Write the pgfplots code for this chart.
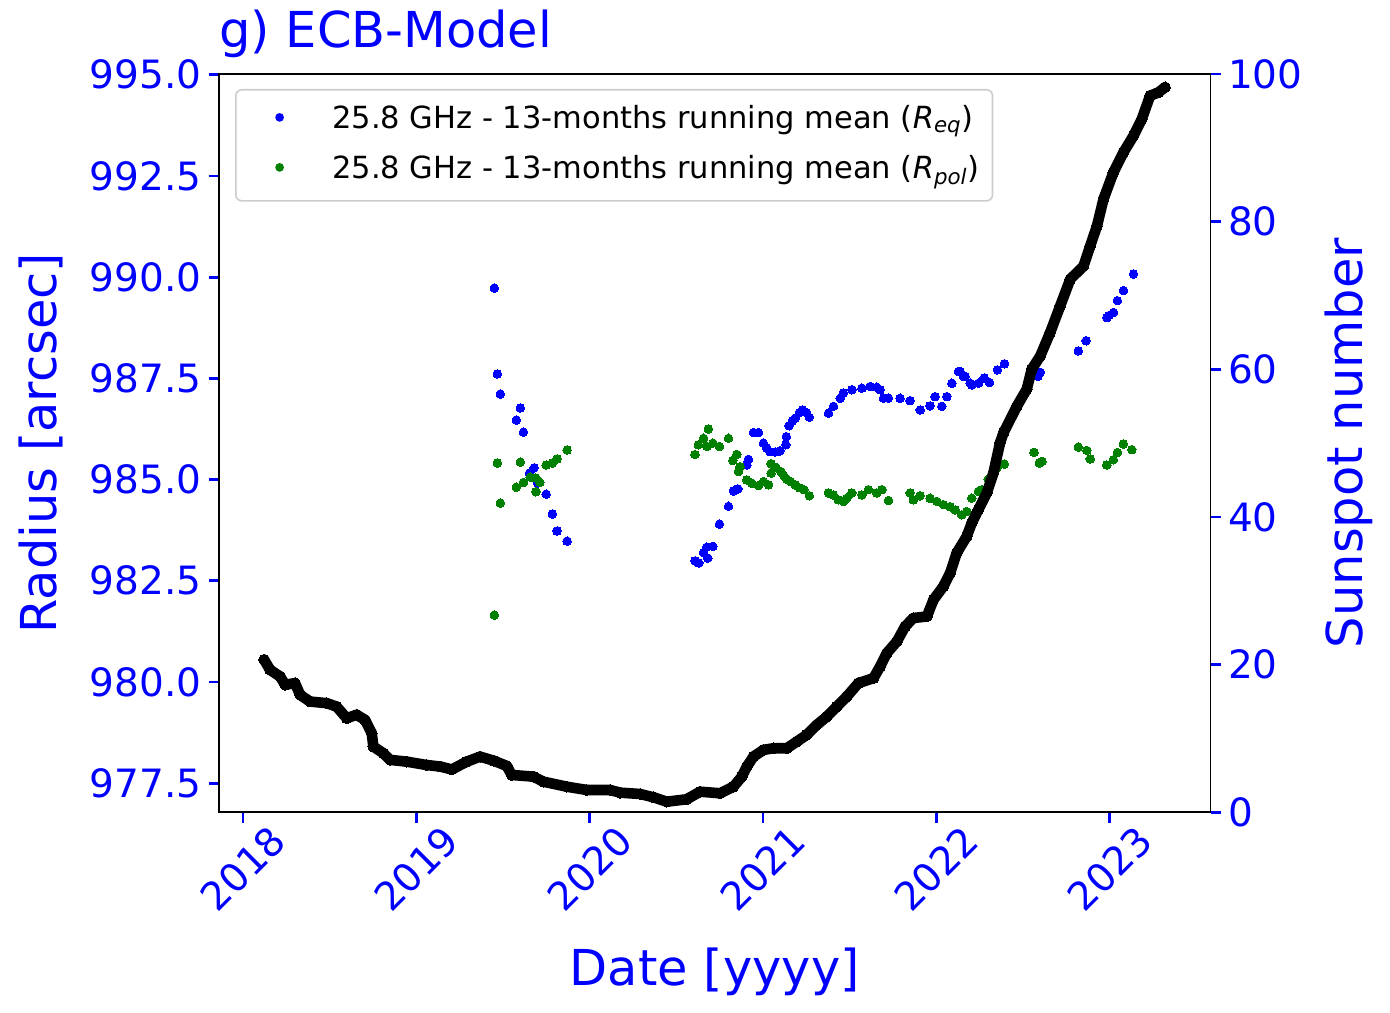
\documentclass[border=0pt]{standalone}
\usepackage{fontspec}
\setmainfont{DejaVu Sans}
\usepackage{pgfplots}
\usepackage{pgfplotstable}
\pgfplotsset{compat=1.18}
\definecolor{mplgreen}{RGB}{0,128,0}
\definecolor{mplblue}{RGB}{0,0,255}

\pgfplotstableread{
x y
2019.450 989.73
2019.468 987.61
2019.485 987.11
2019.577 986.47
2019.600 986.77
2019.618 986.17
2019.653 985.16
2019.680 985.29
2019.700 984.91
2019.749 984.64
2019.785 984.15
2019.812 983.73
2019.870 983.48
2020.608 982.99
2020.630 982.94
2020.657 983.20
2020.676 983.33
2020.682 983.06
2020.711 983.35
2020.749 983.90
2020.801 984.34
2020.830 984.72
2020.855 984.77
2020.907 985.36
2020.916 985.50
2020.945 986.16
2020.974 986.16
2021.003 985.90
2021.022 985.78
2021.041 985.69
2021.070 985.68
2021.099 985.71
2021.132 985.86
2021.135 986.06
2021.151 986.33
2021.170 986.45
2021.186 986.52
2021.210 986.65
2021.228 986.72
2021.250 986.66
2021.268 986.54
2021.378 986.64
2021.407 986.81
2021.446 987.01
2021.464 987.14
2021.513 987.22
2021.571 987.26
2021.619 987.30
2021.657 987.28
2021.676 987.22
2021.695 987.01
2021.724 987.01
2021.791 987.01
2021.849 986.95
2021.907 986.72
2021.964 986.82
2021.993 987.05
2022.032 986.81
2022.061 987.05
2022.090 987.38
2022.128 987.67
2022.138 987.67
2022.157 987.55
2022.167 987.55
2022.196 987.38
2022.205 987.34
2022.244 987.38
2022.276 987.51
2022.307 987.40
2022.353 987.71
2022.394 987.86
2022.552 987.75
2022.586 987.55
2022.600 987.65
2022.820 988.18
2022.865 988.43
2022.984 989.00
2022.995 989.05
2023.022 989.13
2023.045 989.42
2023.080 989.67
2023.138 990.08
}\req

\pgfplotstableread{
x y
2019.450 981.65
2019.468 985.41
2019.485 984.42
2019.577 984.81
2019.600 985.43
2019.618 984.93
2019.657 985.06
2019.690 985.04
2019.690 984.70
2019.713 984.93
2019.749 985.36
2019.785 985.41
2019.812 985.51
2019.870 985.73
2020.608 985.62
2020.627 985.86
2020.657 986.02
2020.676 985.82
2020.685 986.25
2020.711 985.90
2020.749 985.82
2020.801 986.02
2020.826 985.47
2020.849 985.62
2020.859 985.20
2020.868 985.32
2020.907 984.99
2020.936 984.91
2020.974 984.85
2021.003 984.95
2021.032 984.87
2021.047 985.16
2021.047 985.39
2021.075 985.30
2021.103 985.20
2021.120 985.10
2021.138 985.01
2021.160 984.95
2021.186 984.87
2021.210 984.80
2021.236 984.75
2021.268 984.60
2021.378 984.67
2021.407 984.62
2021.435 984.50
2021.464 984.46
2021.484 984.54
2021.513 984.67
2021.571 984.62
2021.609 984.75
2021.657 984.67
2021.686 984.75
2021.724 984.48
2021.849 984.67
2021.868 984.50
2021.907 984.60
2021.964 984.54
2022.003 984.46
2022.041 984.38
2022.080 984.33
2022.109 984.25
2022.147 984.13
2022.176 984.21
2022.205 984.54
2022.243 984.71
2022.262 984.75
2022.300 985.01
2022.349 985.28
2022.393 985.38
2022.564 985.67
2022.595 985.41
2022.610 985.45
2022.820 985.80
2022.869 985.72
2022.888 985.51
2022.984 985.36
2023.022 985.49
2023.045 985.67
2023.080 985.88
2023.128 985.74
}\rpol

\pgfplotstableread{
x y
2018.122 20.66
2018.156 19.30
2018.214 18.40
2018.243 17.27
2018.300 17.50
2018.330 15.90
2018.387 15.00
2018.483 14.78
2018.540 14.32
2018.598 12.75
2018.656 13.20
2018.704 12.52
2018.743 10.70
2018.752 8.90
2018.810 8.00
2018.849 7.10
2018.945 6.86
2019.060 6.40
2019.137 6.20
2019.205 5.80
2019.291 6.86
2019.368 7.54
2019.445 7.00
2019.522 6.28
2019.550 5.06
2019.676 4.83
2019.733 4.15
2019.868 3.47
2019.984 3.02
2020.118 3.02
2020.176 2.66
2020.291 2.48
2020.368 2.03
2020.445 1.44
2020.560 1.76
2020.637 2.79
2020.753 2.58
2020.830 3.47
2020.878 4.83
2020.907 6.18
2020.945 7.54
2021.003 8.45
2021.061 8.68
2021.138 8.68
2021.196 9.58
2021.253 10.50
2021.311 11.84
2021.369 12.97
2021.426 14.32
2021.484 15.68
2021.551 17.50
2021.638 18.17
2021.676 19.75
2021.715 21.57
2021.773 23.14
2021.820 25.17
2021.868 26.31
2021.946 26.53
2021.984 28.79
2022.041 30.60
2022.080 32.40
2022.118 35.13
2022.176 37.38
2022.205 39.20
2022.243 41.00
2022.292 43.27
2022.330 45.98
2022.368 50.05
2022.388 51.40
2022.465 55.00
2022.522 57.30
2022.551 60.00
2022.600 61.80
2022.657 64.97
2022.715 68.58
2022.773 72.20
2022.850 74.00
2022.888 76.70
2022.927 79.40
2022.965 83.05
2023.022 86.67
2023.080 89.38
2023.138 91.63
2023.186 93.90
2023.234 97.06
2023.282 97.50
2023.320 98.20
}\ssn

\pgfplotsset{
  common/.style={
    at={(0,0)}, anchor=south west,
    scale only axis, width=495.8pt, height=369.15pt,
    xmin=2017.8615, xmax=2023.583,
    tick align=outside,
    major tick length=5.25pt,
    every tick/.style={mplblue, line width=1.35pt},
    axis line style={line width=0.85pt, black},
    ticklabel style={font=\fontsize{19.5}{23}\selectfont, text=mplblue},
    label style={font=\fontsize{24.75}{30}\selectfont, text=mplblue},
  }
}

\begin{document}
\begin{tikzpicture}
\begin{axis}[
  common,
  ymin=976.78, ymax=995.02,
  xtick={2018,2019,2020,2021,2022,2023},
  xticklabels={2018,2019,2020,2021,2022,2023},
  ytick={977.5,980,982.5,985,987.5,990,992.5,995},
  yticklabels={977.5,980.0,982.5,985.0,987.5,990.0,992.5,995.0},
  xtick pos=bottom, ytick pos=left,
  xticklabel style={yshift=-23pt, rotate=45, anchor=center},
  xlabel={Date [yyyy]},
  xlabel style={at={(axis description cs:0.5,-0.2163)}, anchor=center},
  ylabel={Radius [arcsec]},
  ylabel style={at={(axis description cs:-0.1794,0.5)}, anchor=center},
  title={g) ECB-Model},
  title style={at={(axis description cs:0,1.0199)}, anchor=base west, inner sep=0pt,
    font=\fontsize{24.75}{30}\selectfont, text=mplblue},
  legend style={at={(axis description cs:0.01614,0.97968)}, anchor=north west,
    draw=black!20, line width=0.8pt, rounded corners=3pt, fill=white,
    inner xsep=6.5pt, inner ysep=2.75pt, row sep=0pt, column sep=0pt,
    font=\fontsize{15.25}{18}\selectfont, text=black,
    nodes={inner sep=0pt, text height=16.55pt, text depth=8.45pt, anchor=base west}},
]
\addplot[mplblue, only marks, mark=*, mark size=2.15pt, mark options={line width=0pt, draw=mplblue, fill=mplblue},
  legend image code/.code={\path (0pt,0pt) (41pt,0pt); \fill[mplblue] (15pt,5.5pt) circle (1.75pt);}]
  table[x=x,y=y] {\req};
\addlegendentry{25.8 GHz - 13-months running mean (\textit{R}\textsubscript{\textit{eq}})}
\addplot[mplgreen, only marks, mark=*, mark size=2.15pt, mark options={line width=0pt, draw=mplgreen, fill=mplgreen},
  legend image code/.code={\path (0pt,0pt) (41pt,0pt); \fill[mplgreen] (15pt,5.5pt) circle (1.75pt);}]
  table[x=x,y=y] {\rpol};
\addlegendentry{25.8 GHz - 13-months running mean (\textit{R}\textsubscript{\textit{pol}})}
\end{axis}
\begin{axis}[
  common,
  ymin=0, ymax=100,
  axis x line=none, axis y line*=right,
  ytick={0,20,40,60,80,100},
  yticklabels={0,20,40,60,80,100},
  ylabel={Sunspot number},
  ylabel style={at={(axis description cs:1.139,0.5)}, anchor=center},
]
\addplot[black, line width=5.3pt, line join=round, line cap=round,
  mark=*, mark size=2.7pt, mark options={line width=0pt, draw=black, fill=black}]
  table[x=x,y=y] {\ssn};
\end{axis}
\pgfresetboundingbox
\path[use as bounding box] (-109.5pt,-99.85pt) rectangle (585.5pt,406.15pt);
\end{tikzpicture}
\end{document}
